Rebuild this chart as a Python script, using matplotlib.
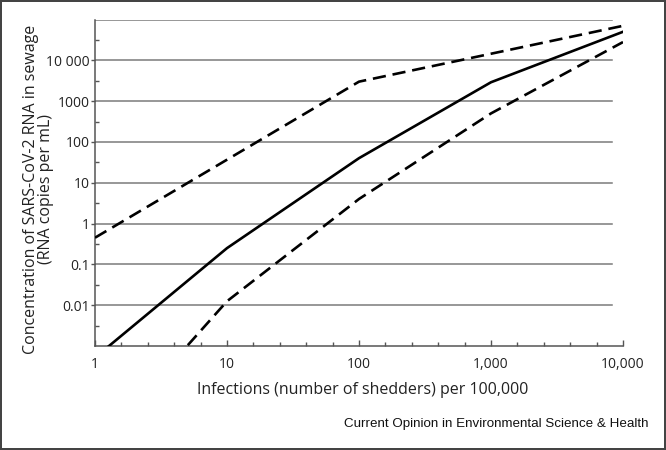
import matplotlib
matplotlib.use("Agg")
import matplotlib.pyplot as plt
from matplotlib.ticker import FixedLocator, FixedFormatter, NullFormatter
import numpy as np

# infections per 100,000 vs RNA copies per mL
x_mid = [1, 10, 100, 1000, 10000]
y_mid = [0.00052, 0.25, 40, 2900, 50000]

x_high = [1, 100, 10000]
y_high = [0.45, 3000, 70000]

x_low = [4, 10, 100, 1000, 10000]
y_low = [0.00045, 0.0125, 4, 500, 28000]

xticks = [1, 10, 100, 1000, 10000]
xtick_labels = ["1", "10", "100", "1,000", "10,000"]
yticks = [0.01, 0.1, 1, 10, 100, 1000, 10000]
ytick_labels = ["0.01", "0.1", "1", "10", "100", "1000", "10 000"]

plt.rcParams["font.family"] = ["Open Sans", "DejaVu Sans"]

fig = plt.figure(figsize=(6.66, 4.5), dpi=100)
fig.patch.set_edgecolor("#444444")
fig.patch.set_linewidth(1.5)
ax = fig.add_axes([95 / 666, 1 - 346 / 450, 528 / 666, (346 - 19.5) / 450])

ax.set_xscale("log")
ax.set_yscale("log")
ax.set_xlim(1, 10000)
ax.set_ylim(0.001, 100000)

# horizontal grid lines (one per decade)
for v in [0.01, 0.1, 1, 10, 100, 1000, 10000, 100000]:
    ax.axhline(v, xmin=0, xmax=0.98, color="#7a7a7a", lw=1.1, zorder=1)

ax.plot(x_mid, y_mid, color="black", lw=1.9, zorder=3)
ax.plot(x_high, y_high, color="black", lw=1.9, dashes=(5, 2.6), zorder=3)
ax.plot(x_low, y_low, color="black", lw=1.9, dashes=(5, 2.6), zorder=3)

for s in ["top", "right"]:
    ax.spines[s].set_visible(False)
for s in ["left", "bottom"]:
    ax.spines[s].set_color("#555555")
    ax.spines[s].set_linewidth(1.1)

ax.xaxis.set_major_locator(FixedLocator(xticks))
ax.xaxis.set_major_formatter(FixedFormatter(xtick_labels))
xminor = [10 ** (k + j / 5) for k in range(4) for j in range(1, 5)]
ax.xaxis.set_minor_locator(FixedLocator(xminor))
ax.xaxis.set_minor_formatter(NullFormatter())
ax.tick_params(axis="x", which="major", direction="in", length=4, width=1,
               color="#555555", labelsize=10, pad=8, labelcolor="#222222")
ax.tick_params(axis="x", which="minor", direction="in", length=3, width=1,
               color="#555555")

ax.yaxis.set_major_locator(FixedLocator(yticks))
ax.yaxis.set_major_formatter(FixedFormatter(ytick_labels))
yminor = [10 ** (k + 0.5) for k in range(-3, 5)]
ax.yaxis.set_minor_locator(FixedLocator(yminor))
ax.yaxis.set_minor_formatter(NullFormatter())
ax.tick_params(axis="y", which="major", direction="out", length=3, width=1,
               color="#555555", labelsize=10, pad=1, labelcolor="#222222")
ax.tick_params(axis="y", which="minor", direction="in", length=3, width=1,
               color="#555555")

# y label as two separate lines
fig.text(31 / 666, 1 - 189 / 450, "Concentration of SARS-CoV-2 RNA in sewage",
         rotation=90, ha="center", va="center", fontsize=11.5, color="#222222")
fig.text(46 / 666, 1 - 189 / 450, "(RNA copies per mL)",
         rotation=90, ha="center", va="center", fontsize=11.5, color="#222222")
fig.text(363 / 666, 1 - 390 / 450, "Infections (number of shedders) per 100,000",
         ha="center", va="center", fontsize=11.5, color="#222222")
fig.text(648 / 666, 1 - 424 / 450, "Current Opinion in Environmental Science & Health",
         ha="right", va="center", fontsize=9.6, family="Liberation Sans", color="#111111")

fig.savefig("out.png", dpi=100, edgecolor=fig.get_edgecolor())
